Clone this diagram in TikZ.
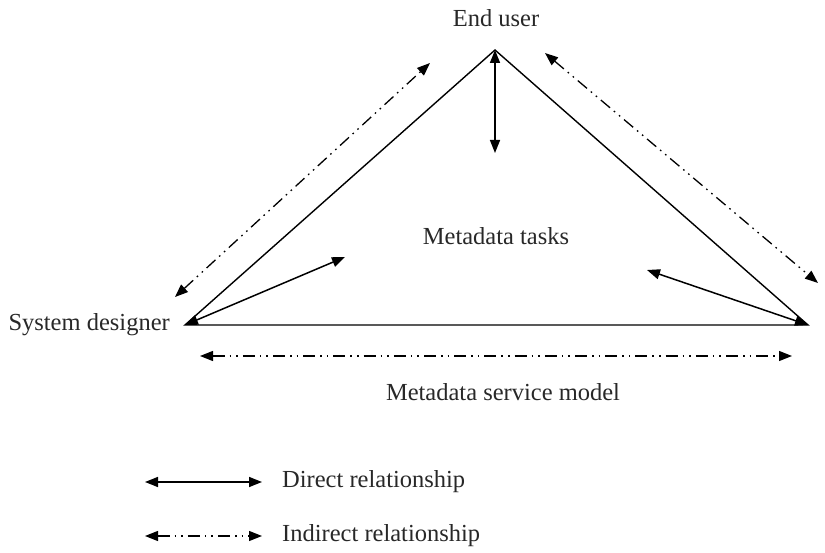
\documentclass[tikz,border=0pt]{standalone}
\usepackage{fontspec}
\setmainfont{Liberation Serif}
\definecolor{InkGray}{RGB}{40, 40, 40}
\usetikzlibrary{arrows.meta, positioning}

\begin{document}
\begin{tikzpicture}[x=1pt, y=1pt, >={Triangle[length=13pt, width=10pt]},
    side/.style={line width=1.4pt},
    direct/.style={<->, line width=1.5pt},
    indirect/.style={<->, line width=1.3pt,
        dash pattern=on 12pt off 5pt on 1.6pt off 5pt on 1.6pt off 5pt},
    label/.style={font=\fontsize{24.5}{28}\selectfont, text=InkGray, inner sep=0pt}]
    \useasboundingbox (0,0) rectangle (825,552);
    % Vertices of the triangle
    \coordinate (user) at (495,502);
    \coordinate (designer) at (185,227);
    \coordinate (model) at (808,227);
    % Free ends of the arrows
    \coordinate (taskU) at (495,399);
    \coordinate (taskL) at (345,295);
    \coordinate (taskR) at (647,282);
    \coordinate (ldA) at (175,255);
    \coordinate (ldB) at (430,489);
    \coordinate (rdA) at (545,499);
    \coordinate (rdB) at (818,269);
    \coordinate (bdA) at (200,196);
    \coordinate (bdB) at (792,196);
    % Labels
    \node[label] (userlbl) at (496,534) {End user};
    \node[label, anchor=east] (designerlbl) at (170,227) {System designer};
    \node[label] (tasks) at (496,316) {Metadata tasks};
    \node[label] (service) at (503,160) {Metadata service model};
    % Triangle
    \draw[side] (designer) -- (user) -- (model) -- cycle;
    % Direct relationships to the tasks
    \draw[direct] (user) -- (taskU);
    \draw[direct] (designer) -- (taskL);
    \draw[direct] (model) -- (taskR);
    % Indirect relationships
    \draw[indirect] (ldA) -- (ldB);
    \draw[indirect] (rdA) -- (rdB);
    \draw[indirect] (bdA) -- (bdB);
    % Legend
    \coordinate (dirA) at (145,70);
    \coordinate (dirB) at (262,70);
    \coordinate (indA) at (145,16);
    \coordinate (indB) at (262,16);
    \draw[direct] (dirA) -- (dirB);
    \draw[indirect] (indA) -- (indB);
    \node[label, anchor=west] (dirlbl) at (282,70) {Direct relationship};
    \node[label, anchor=west] (indlbl) at (282,16) {Indirect relationship};
\end{tikzpicture}
\end{document}
